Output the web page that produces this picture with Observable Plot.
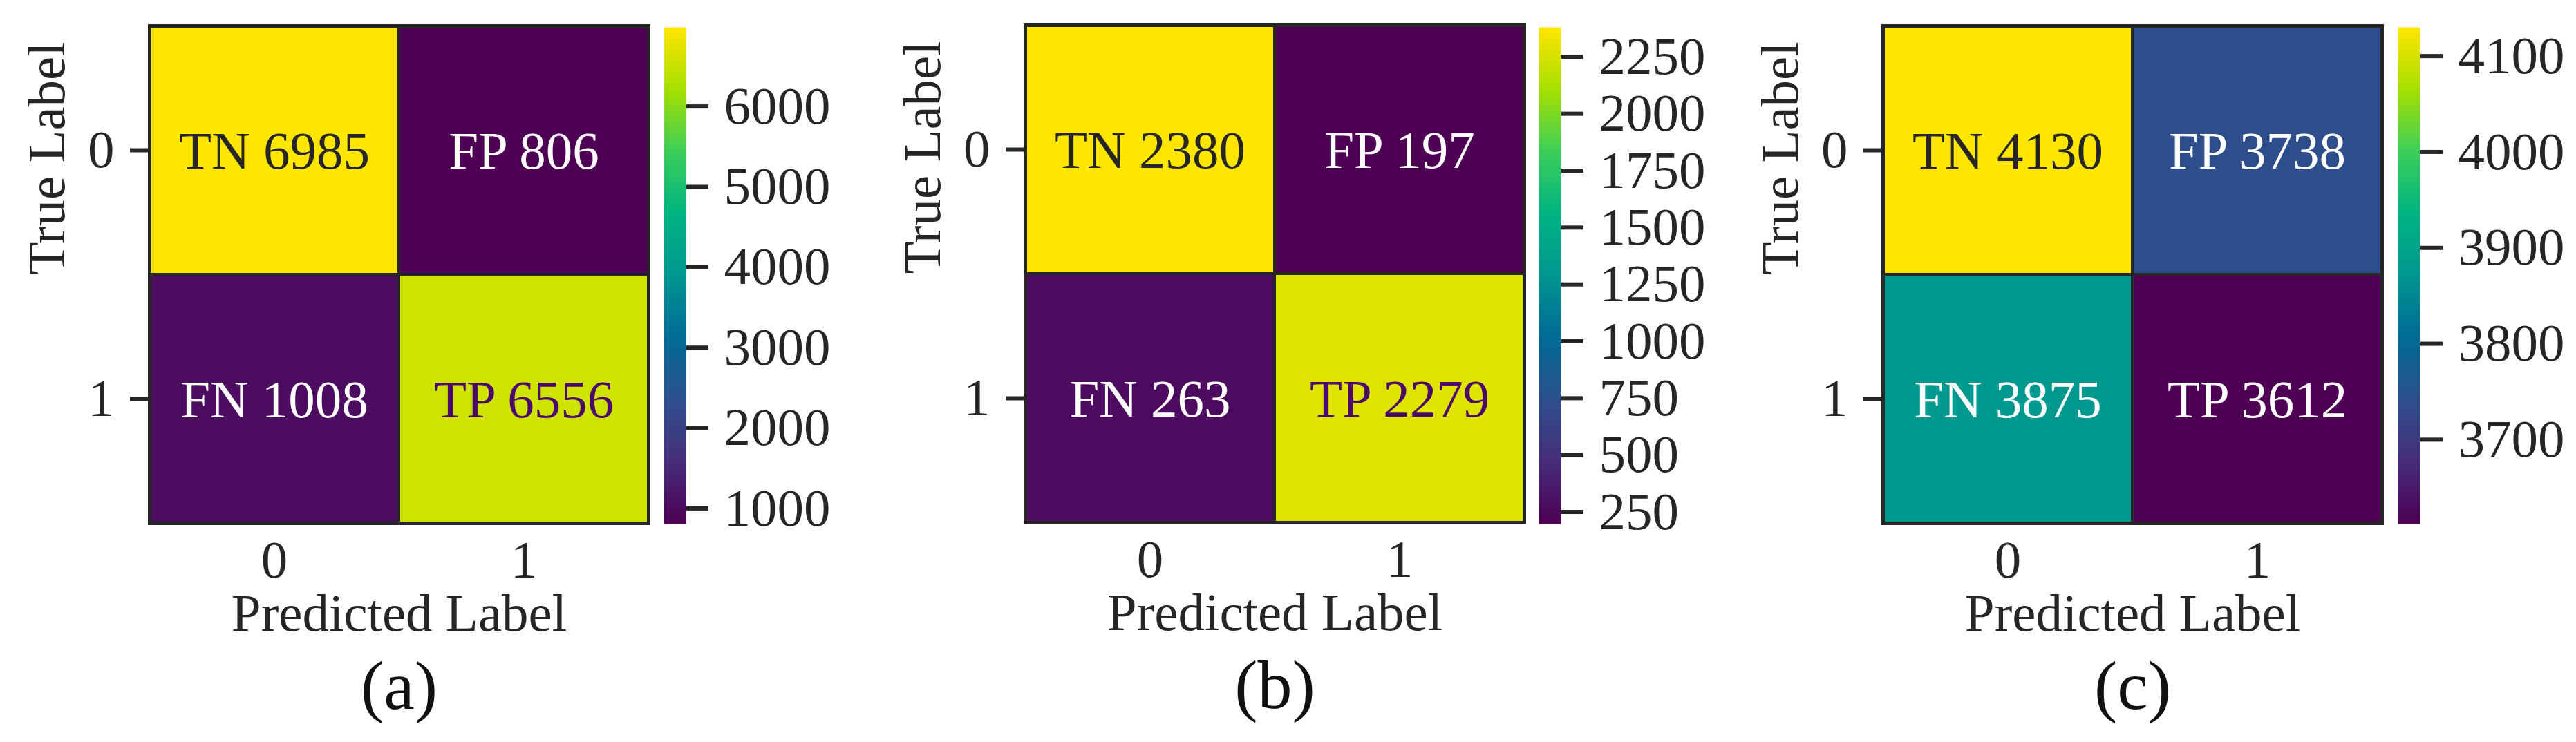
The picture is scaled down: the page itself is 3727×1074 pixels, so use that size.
<!DOCTYPE html>
<html>
<head>
<meta charset="utf-8">
<script src="https://cdn.jsdelivr.net/npm/d3@7"></script>
<script src="https://cdn.jsdelivr.net/npm/@observablehq/plot@0.6"></script>
<style>
  body { margin: 0; background: #ffffff; }
  #fig { position: relative; width: 3727px; height: 1074px; background: #ffffff; overflow: hidden; }
  #fig > svg { position: absolute; top: 0; }
</style>
</head>
<body>
<div id="fig"></div>
<script>
// ---------------- data ----------------
const tickLabels = ["0", "1"];
const cellLabels = ["TN", "FP", "FN", "TP"];
const trueLabels = ["0", "0", "1", "1"];
const predLabels = ["0", "1", "0", "1"];
const valuesA = [6985, 806, 1008, 6556];
const valuesB = [2380, 197, 263, 2279];
const valuesC = [4130, 3738, 3875, 3612];
const colorbarTicksA = [1000, 2000, 3000, 4000, 5000, 6000];
const colorbarTicksB = [250, 500, 750, 1000, 1250, 1500, 1750, 2000, 2250];
const colorbarTicksC = [3700, 3800, 3900, 4000, 4100];
const panelTags = ["(a)", "(b)", "(c)"];
const xTitle = "Predicted Label";
const yTitle = "True Label";

// ---------------- style / layout ----------------
const FONT = '"Liberation Serif", "Times New Roman", Times, serif';
const INK = "#262626";
const PURPLE_TEXT = "#4b0a6b";
const cmapStops = ["#4e0055", "#472d7b", "#2d508c", "#016b96", "#009690", "#00b482", "#3ccf5a", "#a8e000", "#ffe600"];
const cmap = d3.piecewise(d3.interpolateRgb, cmapStops);
const layout = [
  {hmLeft: 214, hmTop: 35, cbLeft: 960},
  {hmLeft: 1481, hmTop: 34, cbLeft: 2226},
  {hmLeft: 2722, hmTop: 35, cbLeft: 3469}
];
const FS = 77;

const fig = document.getElementById("fig");

function drawPanel(values, cbTicks, tag, lay) {
  const data = values.map((v, i) => ({t: trueLabels[i], p: predLabels[i], lab: cellLabels[i], v}));
  const lo = d3.min(values), hi = d3.max(values);
  const color = {type: "linear", domain: [lo, hi], interpolate: cmap};
  const norm = v => (v - lo) / (hi - lo);
  const textColor = v => norm(v) >= 0.99 ? INK : norm(v) >= 0.6 ? PURPLE_TEXT : "#ffffff";
  const textGroups = [INK, PURPLE_TEXT, "#ffffff"];

  const ML = 216, W = 722, H = 720;
  const MT = lay.hmTop + 2;
  const hm = Plot.plot({
    width: ML + W + 6,
    height: 1074,
    marginLeft: ML,
    marginRight: 6,
    marginTop: MT,
    marginBottom: 1074 - MT - H,
    x: {type: "band", domain: tickLabels, padding: 0, label: null, axis: null},
    y: {type: "band", domain: tickLabels, padding: 0, label: null, axis: null},
    color,
    style: {fontFamily: FONT, fontSize: FS + "px", color: INK, background: "transparent", overflow: "visible"},
    marks: [
      Plot.cell(data, {x: "p", y: "t", fill: "v", stroke: INK, strokeWidth: 4}),
      Plot.frame({stroke: INK, strokeWidth: 5}),
      ...textGroups.map(col => Plot.text(data, {
        filter: d => textColor(d.v) === col,
        x: "p", y: "t",
        text: d => `${d.lab} ${d.v}`,
        fill: col,
        fontSize: FS,
        dy: 2
      })),
      Plot.axisY({label: null, tickSize: 28, tickPadding: 23, strokeWidth: 6, color: INK, fontSize: FS}),
      Plot.axisX({label: null, tickSize: 0, tickPadding: 24, color: INK, fontSize: FS}),
      Plot.text([yTitle], {frameAnchor: "left", lineAnchor: "middle", dx: -148, rotate: -90, text: d => d, fontSize: FS, fill: INK}),
      Plot.text([xTitle], {frameAnchor: "bottom", lineAnchor: "middle", dy: 131, text: d => d, fontSize: FS, fill: INK}),
      Plot.text([tag], {frameAnchor: "bottom", lineAnchor: "middle", dy: 236, text: d => d, fontSize: 100, fill: "#111111"})
    ]
  });
  hm.style.left = (lay.hmLeft + 2 - ML) + "px";
  fig.appendChild(hm);

  const CB_W = 32, CB_TOP = 39, CB_BOTTOM = 758;
  const cb = Plot.plot({
    width: CB_W + 280,
    height: 1074,
    marginLeft: 0,
    marginRight: 280,
    marginTop: CB_TOP,
    marginBottom: 1074 - CB_BOTTOM,
    x: {domain: [0, 1], axis: null, label: null},
    y: {domain: [lo, hi], axis: null, label: null},
    color,
    style: {fontFamily: FONT, fontSize: FS + "px", color: INK, background: "transparent", overflow: "visible"},
    marks: [
      Plot.raster({x1: 0, x2: 1, y1: lo, y2: hi, width: 1, height: 720, fill: (x, y) => y, imageRendering: "auto"}),
      Plot.axisY({anchor: "right", label: null, ticks: cbTicks, tickSize: 32, tickPadding: 23, strokeWidth: 6, color: INK, fontSize: FS, tickFormat: d => String(d)})
    ]
  });
  cb.style.left = lay.cbLeft + "px";
  fig.appendChild(cb);
}

drawPanel(valuesA, colorbarTicksA, panelTags[0], layout[0]);
drawPanel(valuesB, colorbarTicksB, panelTags[1], layout[1]);
drawPanel(valuesC, colorbarTicksC, panelTags[2], layout[2]);
</script>
</body>
</html>
